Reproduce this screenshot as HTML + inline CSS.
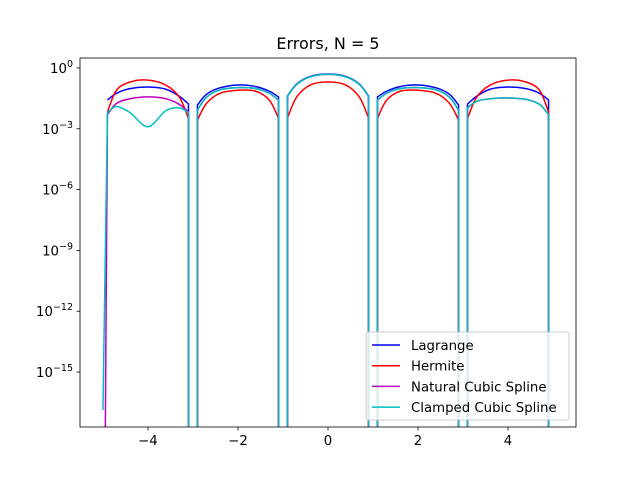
<!DOCTYPE html>
<html><head><meta charset="utf-8"><style>
body{margin:0;background:#fff}
svg{display:block;font-family:"DejaVu Sans","Liberation Sans",sans-serif}
</style></head><body>
<svg id="chart" width="640" height="480" viewBox="0 0 640 480">
<rect width="640" height="480" fill="#fff"/>
<text x="328" y="49" font-size="16" text-anchor="middle">Errors, N = 5</text>
<defs><clipPath id="clip"><rect x="80" y="58" width="496" height="369"/></clipPath></defs>
<g id="series" clip-path="url(#clip)"></g>
<g id="axes"></g>
</svg>
<script>
const xTicks=[-4,-2,0,2,4];
const yTickExps=[0,-3,-6,-9,-12,-15];
const seriesNames=["Lagrange","Hermite","Natural Cubic Spline","Clamped Cubic Spline"];
const seriesColors=["#0000ff","#ff0000","#bf00bf","#00bfbf"];
const segX=[[-4.9,-4.7,-4.4,-4.0,-3.6,-3.3,-3.1],[-2.9,-2.7,-2.4,-2.0,-1.6,-1.3,-1.1],[-0.9,-0.7,-0.4,0,0.4,0.7,0.9],[1.1,1.3,1.6,2.0,2.4,2.7,2.9],[3.1,3.3,3.6,4.0,4.4,4.7,4.9]];
// log10 error per segment
const lagrange=[[-1.58,-1.25,-1.02,-0.94,-1.05,-1.4,-1.78],[-1.83,-1.3,-0.98,-0.84,-0.92,-1.15,-1.43],[-1.38,-0.8,-0.42,-0.3,-0.42,-0.8,-1.38],[-1.43,-1.15,-0.92,-0.84,-0.98,-1.3,-1.83],[-1.78,-1.4,-1.05,-0.94,-1.02,-1.25,-1.58]];
const hermite=[[-2.17,-1.1,-0.7,-0.6,-0.85,-1.45,-2.5],[-2.57,-1.75,-1.25,-1.1,-1.15,-1.6,-2.47],[-2.47,-1.45,-0.85,-0.69,-0.85,-1.45,-2.47],[-2.47,-1.6,-1.15,-1.1,-1.25,-1.75,-2.57],[-2.5,-1.45,-0.85,-0.6,-0.7,-1.1,-2.17]];
const natural=[[-2.3,-1.75,-1.52,-1.43,-1.52,-1.8,-2.17],[-2.07,-1.45,-1.08,-0.97,-1.02,-1.25,-1.58],[-1.4,-0.82,-0.44,-0.32,-0.44,-0.82,-1.4],[-1.58,-1.25,-1.02,-0.97,-1.08,-1.45,-2.07],[-1.97,-1.65,-1.52,-1.48,-1.55,-1.8,-2.3]];
const clamped=[[-2.2,-1.9,-2.2,-2.9,-2.1,-1.97,-2.2],[-2.07,-1.45,-1.08,-0.97,-1.02,-1.25,-1.58],[-1.4,-0.82,-0.44,-0.32,-0.44,-0.82,-1.4],[-1.58,-1.25,-1.02,-0.97,-1.08,-1.45,-2.07],[-1.97,-1.65,-1.52,-1.48,-1.55,-1.8,-2.3]];
const startPoint=[null,null,[-4.95,null],[-5.0,-16.87]];
const allSeries=[lagrange,hermite,natural,clamped];

const NS="http://www.w3.org/2000/svg";
const X0=80,X1=576,Y0=58,Y1=427;
const xMin=-5.51,xMax=5.51;
const yTop=0.49,yBot=-17.71;
function sx(v){return X0+(v-xMin)/(xMax-xMin)*(X1-X0);}
function sy(l){if(l===null)return 445;return Y0+(yTop-l)/(yTop-yBot)*(Y1-Y0);}
function mk(tag,attrs,parent){const e=document.createElementNS(NS,tag);for(const k in attrs)e.setAttribute(k,attrs[k]);parent.appendChild(e);return e;}
function catmull(pts){let d="";for(let i=0;i<pts.length-1;i++){const p0=pts[Math.max(0,i-1)],p1=pts[i],p2=pts[i+1],p3=pts[Math.min(pts.length-1,i+2)];
const c1=[p1[0]+(p2[0]-p0[0])/6,p1[1]+(p2[1]-p0[1])/6],c2=[p2[0]-(p3[0]-p1[0])/6,p2[1]-(p3[1]-p1[1])/6];
d+=` C${c1[0].toFixed(2)},${c1[1].toFixed(2)} ${c2[0].toFixed(2)},${c2[1].toFixed(2)} ${p2[0].toFixed(2)},${p2[1].toFixed(2)}`;}return d;}
const sg=document.getElementById("series");
allSeries.forEach((ser,si)=>{
  let d="";
  ser.forEach((seg,k)=>{
    const pts=seg.map((l,i)=>[sx(segX[k][i]),sy(l)]);
    if(k===0){
      const sp=startPoint[si];
      if(sp){d+=`M${sx(sp[0]).toFixed(2)},${sy(sp[1]).toFixed(2)} L${pts[0][0].toFixed(2)},${pts[0][1].toFixed(2)}`;}
      else d+=`M${pts[0][0].toFixed(2)},${pts[0][1].toFixed(2)}`;
    } else {
      d+=` L${pts[0][0].toFixed(2)},445 L${pts[0][0].toFixed(2)},${pts[0][1].toFixed(2)}`;
    }
    d+=catmull(pts);
    d+=` L${pts[pts.length-1][0].toFixed(2)},445`;
  });
  const p=mk("path",{d:d,fill:"none",stroke:seriesColors[si],"stroke-width":"1.5","stroke-linejoin":"round"},sg);
  
  
});
const ax=document.getElementById("axes");
const frame=mk("rect",{x:X0,y:Y0,width:X1-X0,height:Y1-Y0,fill:"none",stroke:"#000","stroke-width":"0.8"},ax);


xTicks.forEach(v=>{
  const x=sx(v);
  const t=mk("line",{x1:x,x2:x,y1:Y1,y2:Y1+3.5,stroke:"#000","stroke-width":"0.8"},ax);
  
  
  const lb=mk("text",{x:x,y:Y1+18,"font-size":"13.3","text-anchor":"middle"},ax);
  lb.textContent=(v<0?"\u2212"+(-v):String(v));
  
  
});
yTickExps.forEach(e=>{
  const y=sy(e);
  const t=mk("line",{x1:X0-3.5,x2:X0,y1:y,y2:y,stroke:"#000","stroke-width":"0.8"},ax);
  
  
  const lb=mk("text",{x:X0-7,y:y+5,"font-size":"13.3","text-anchor":"end"},ax);
  
  
  const a=document.createElementNS(NS,"tspan");a.textContent="10";lb.appendChild(a);
  const b=document.createElementNS(NS,"tspan");b.setAttribute("dy","-6");b.setAttribute("font-size","9.5");
  b.textContent=(e<0?"\u2212"+(-e):String(e));lb.appendChild(b);
});
// legend
const lg=mk("g",{},ax);


mk("rect",{x:366,y:332,width:203,height:88,rx:2,fill:"#fff","fill-opacity":"0.8",stroke:"#ccc","stroke-width":"1"},lg);
seriesNames.forEach((n,i)=>{
  const y=345+i*20.7;
  const l=mk("line",{x1:372,x2:400,y1:y,y2:y,stroke:seriesColors[i],"stroke-width":"1.5"},lg);
  
  
  const t=mk("text",{x:411,y:y+5,"font-size":"13.3"},lg);
  t.textContent=n;
  
  
});
</script>
</body></html>
